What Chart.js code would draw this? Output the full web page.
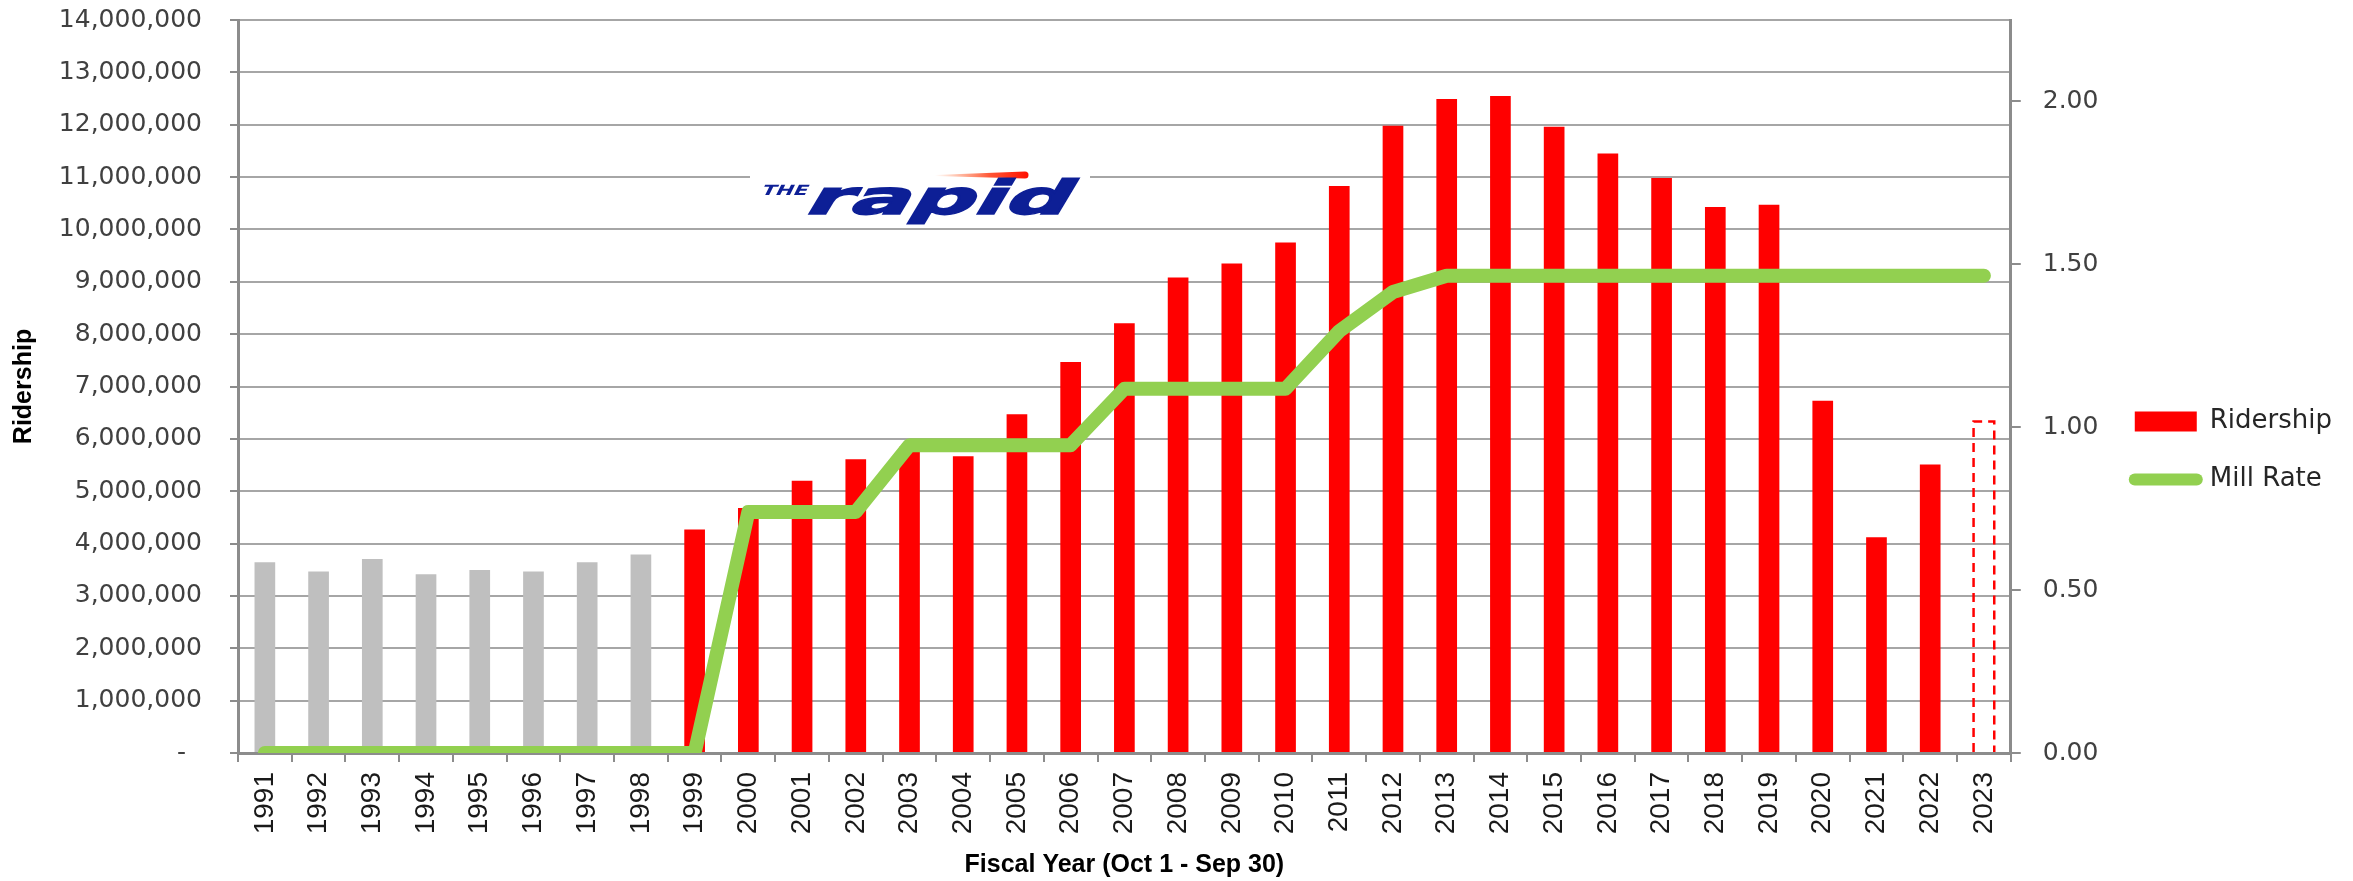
<!DOCTYPE html>
<html>
<head>
<meta charset="utf-8">
<script src="https://cdn.jsdelivr.net/npm/chart.js@4.4.1/dist/chart.umd.min.js"></script>
<style>
  html, body { margin: 0; padding: 0; background: #ffffff; overflow: hidden; }
  #wrap { width: 2353px; height: 881px; position: relative; }
</style>
</head>
<body>
<div id="wrap"><canvas id="c" width="2353" height="881"></canvas></div>
<script>
// ---- data ----
const years = ['1991','1992','1993','1994','1995','1996','1997','1998','1999','2000',
               '2001','2002','2003','2004','2005','2006','2007','2008','2009','2010',
               '2011','2012','2013','2014','2015','2016','2017','2018','2019','2020',
               '2021','2022','2023'];
const ridership = [3644000, 3466000, 3707000, 3415000, 3497000, 3466000, 3644000, 3791000, 4269000, 4680000,
                   5200000, 5610000, 5850000, 5670000, 6470000, 7470000, 8210000, 9080000, 9350000, 9750000,
                   10830000, 11980000, 12490000, 12550000, 11960000, 11450000, 10980000, 10430000, 10470000, 6730000,
                   4120000, 5510000, 6330000];
const millRate = [0, 0, 0, 0, 0, 0, 0, 0, 0, 0.74,
                  0.74, 0.74, 0.945, 0.945, 0.945, 0.945, 1.118, 1.118, 1.118, 1.118,
                  1.295, 1.415, 1.465, 1.465, 1.465, 1.465, 1.465, 1.465, 1.465, 1.465,
                  1.465, 1.465, 1.465];
const firstRapidYear = '1999';   // bars before this year are grey
const estimateYear = '2023';     // drawn as a dashed, unfilled bar
const ridershipTickLabels = { zero: '-  ' };
const seriesNames = ['Ridership', 'Mill Rate'];
const xTitle = 'Fiscal Year (Oct 1 - Sep 30)';
const yTitle = 'Ridership';

// ---- styles ----
const RED = '#FF0000', GREY = '#BFBFBF', GREEN = '#92D050';
const AXIS = '#8c8c8c', GRID = '#a6a6a6';

const barColors = years.map(y => y === estimateYear ? 'rgba(0,0,0,0)' : (y < firstRapidYear ? GREY : RED));

const dashedEstimate = {
  id: 'dashedEstimate',
  afterDatasetsDraw(chart) {
    const i = years.indexOf(estimateYear);
    if (i < 0) return;
    const el = chart.getDatasetMeta(0).data[i];
    const p = el.getProps(['x', 'y', 'base', 'width'], true);
    const ctx = chart.ctx;
    const l = p.x - p.width / 2, r = p.x + p.width / 2;
    ctx.save();
    ctx.strokeStyle = RED;
    ctx.lineWidth = 2.5;
    ctx.setLineDash([9, 6]);
    ctx.beginPath();
    ctx.moveTo(l, p.base);
    ctx.lineTo(l, p.y);
    ctx.lineTo(r, p.y);
    ctx.lineTo(r, p.base);
    ctx.stroke();
    ctx.restore();
  }
};

const logo = {
  id: 'logo',
  beforeDatasetsDraw(chart) {
    const ctx = chart.ctx;
    ctx.save();
    ctx.fillStyle = '#ffffff';
    ctx.fillRect(750, 165, 340, 22);
    const g = ctx.createLinearGradient(935, 0, 1028, 0);
    g.addColorStop(0, 'rgba(255,80,0,0)');
    g.addColorStop(0.6, 'rgba(255,40,0,0.8)');
    g.addColorStop(1, '#ff1000');
    ctx.fillStyle = g;
    ctx.beginPath();
    ctx.moveTo(935, 175);
    ctx.lineTo(1025, 171.5);
    ctx.arc(1025, 175, 3.5, -Math.PI / 2, Math.PI / 2);
    ctx.lineTo(935, 176);
    ctx.closePath();
    ctx.fill();
    ctx.fillStyle = '#0d1f96';
    ctx.strokeStyle = '#0d1f96';
    ctx.lineWidth = 1.5;
    ctx.textBaseline = 'alphabetic';
    ctx.setTransform(1.9, 0, -0.6, 1, 802, 214);
    ctx.font = 'bold 47px "DejaVu Sans"';
    ctx.fillText('rapid', 0, 0);
    ctx.strokeText('rapid', 0, 0);
    ctx.setTransform(1.5, 0, -0.5, 1, 760, 195);
    ctx.font = 'bold 14px "DejaVu Sans"';
    ctx.fillText('THE', 0, 0);
    ctx.restore();
  }
};

function noPad(s) { s.paddingTop = 0; s.paddingBottom = 0; s.paddingLeft = 0; s.paddingRight = 0; }

new Chart(document.getElementById('c'), {
  data: {
    labels: years,
    datasets: [
      {
        type: 'bar',
        label: seriesNames[0],
        data: ridership,
        yAxisID: 'y',
        backgroundColor: barColors,
        borderWidth: 0,
        categoryPercentage: 1,
        barPercentage: 0.385,
        order: 1
      },
      {
        type: 'line',
        label: seriesNames[1],
        data: millRate,
        yAxisID: 'y1',
        borderColor: GREEN,
        backgroundColor: GREEN,
        borderWidth: 14,
        borderCapStyle: 'round',
        borderJoinStyle: 'round',
        pointRadius: 0,
        tension: 0,
        fill: false,
        order: 0
      }
    ]
  },
  options: {
    responsive: false,
    animation: false,
    devicePixelRatio: 1,
    layout: { padding: { left: 0, right: 11, top: 20, bottom: 0 } },
    plugins: {
      tooltip: { enabled: false },
      legend: {
        position: 'right',
        labels: {
          usePointStyle: true,
          pointStyleWidth: 62,
          boxHeight: 20,
          padding: 32,
          color: '#262626',
          font: { family: 'DejaVu Sans', size: 26 },
          generateLabels: () => [
            { text: seriesNames[0], fillStyle: RED, strokeStyle: RED, lineWidth: 0, pointStyle: 'rect', datasetIndex: 0, hidden: false, fontColor: '#262626' },
            { text: seriesNames[1], fillStyle: GREEN, strokeStyle: GREEN, lineWidth: 12, lineCap: 'round', pointStyle: 'line', datasetIndex: 1, hidden: false, fontColor: '#262626' }
          ]
        }
      }
    },
    scales: {
      x: {
        grid: { offset: true, drawOnChartArea: false, drawTicks: true, tickLength: 9, color: AXIS, lineWidth: 2 },
        border: { color: AXIS, width: 3 },
        ticks: {
          autoSkip: false, minRotation: 90, maxRotation: 90, padding: 10,
          color: '#1a1a1a', font: { family: 'Liberation Sans', size: 28 }
        },
        title: {
          display: true, text: xTitle, color: '#000000',
          font: { family: 'Liberation Sans', size: 25, weight: 'bold' },
          padding: { top: 0, bottom: 1 }
        },
        afterFit(s) { s.height = 128; noPad(s); }
      },
      y: {
        type: 'linear', position: 'left', min: 0, max: 14000000,
        ticks: {
          stepSize: 1000000, padding: 28, color: '#404040',
          font: { family: 'DejaVu Sans', size: 25 },
          callback: v => v === 0 ? ridershipTickLabels.zero : String(v).replace(/\B(?=(\d{3})+(?!\d))/g, ',')
        },
        grid: { color: GRID, lineWidth: 2, tickLength: 8, tickColor: AXIS },
        border: { color: AXIS, width: 3 },
        title: {
          display: true, text: yTitle, color: '#000000',
          font: { family: 'Liberation Sans', size: 25, weight: 'bold' },
          padding: { top: 9, bottom: 0 }
        },
        afterFit(s) { s.width = 238; noPad(s); }
      },
      y1: {
        type: 'linear', position: 'right', min: 0, max: 2.25,
        ticks: {
          stepSize: 0.5, includeBounds: false, padding: 22, color: '#404040',
          font: { family: 'DejaVu Sans', size: 25 },
          callback: v => Number(v).toFixed(2)
        },
        grid: { drawOnChartArea: false, tickLength: 10, color: AXIS, lineWidth: 2 },
        border: { color: AXIS, width: 3 },
        afterFit(s) { s.width = 92; noPad(s); }
      }
    }
  },
  plugins: [logo, dashedEstimate]
});
</script>
</body>
</html>
